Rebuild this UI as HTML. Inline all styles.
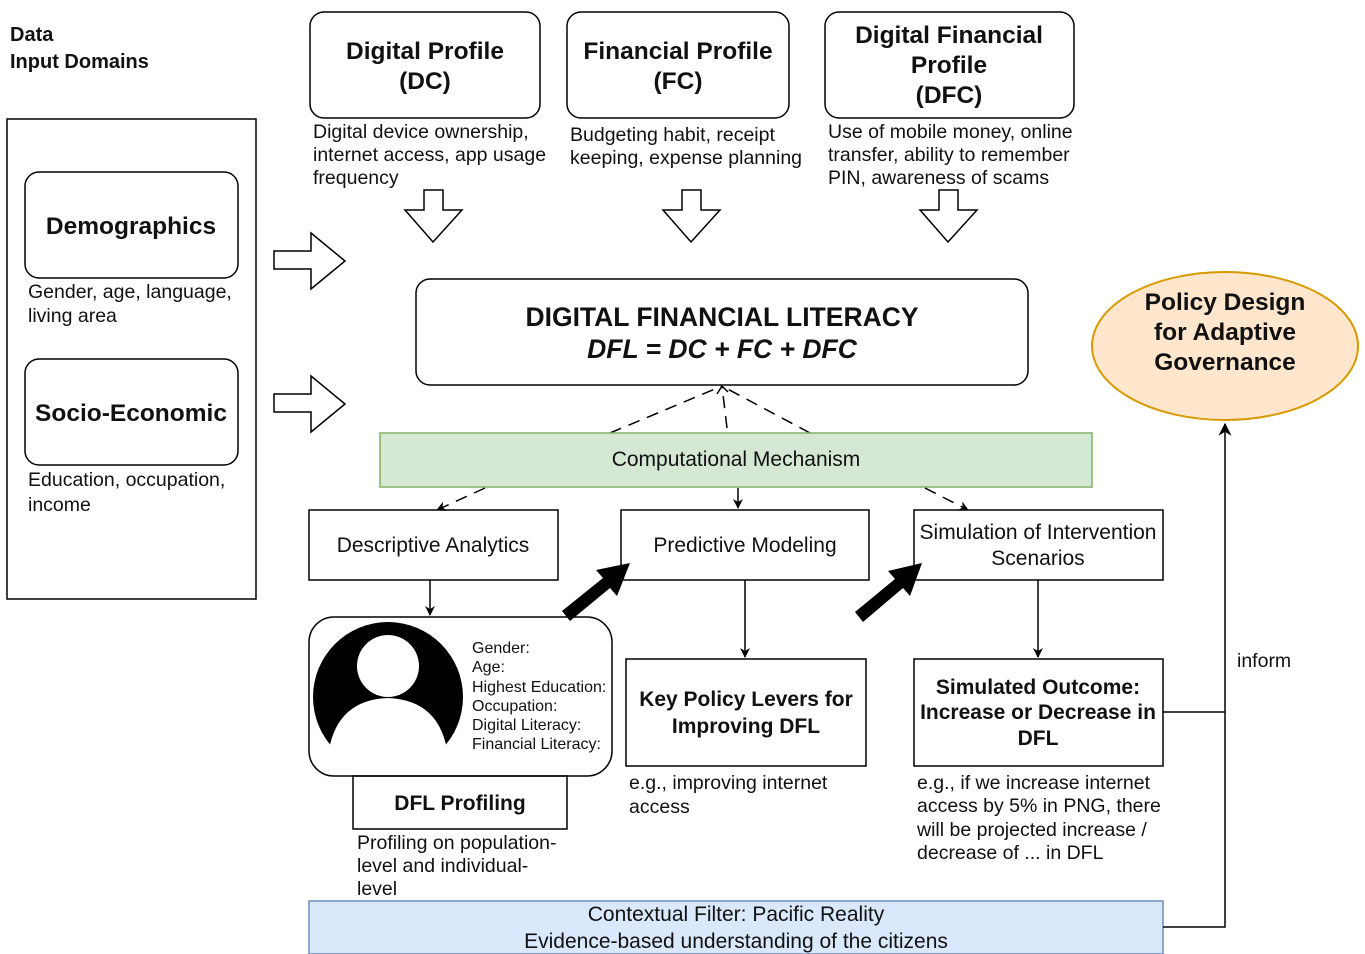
<!DOCTYPE html>
<html><head><meta charset="utf-8"><style>
html,body{margin:0;padding:0;background:#fff}
svg{display:block}
text{font-family:"Liberation Sans",sans-serif;fill:#111}
.b{font-weight:bold}
</style></head><body>
<svg width="1365" height="954" viewBox="0 0 1365 954" xmlns="http://www.w3.org/2000/svg">
<defs>
<marker id="ah" viewBox="0 0 10 10" refX="9" refY="5" markerWidth="10" markerHeight="10" orient="auto" markerUnits="userSpaceOnUse"><path d="M0,0 L10,5 L0,10 L3,5 z" fill="#000"/></marker>
<marker id="ah2" viewBox="0 0 10 10" refX="9" refY="5" markerWidth="13" markerHeight="13" orient="auto" markerUnits="userSpaceOnUse"><path d="M0,0 L10,5 L0,10 L3,5 z" fill="#000"/></marker>
</defs>
<g stroke="#000" stroke-width="1.5" fill="none">
<text x="10" y="41" class="b" font-size="20" stroke="none">Data</text>
<text x="10" y="68" class="b" font-size="20" stroke="none">Input Domains</text>
<rect x="7" y="119" width="249" height="480"/>
<rect x="25" y="172" width="213" height="106" rx="14" fill="#fff"/>
<rect x="25" y="359" width="213" height="106" rx="14" fill="#fff"/>
<path d="M274,251 H311 V233 L345,261 L311,289 V269 H274 Z" fill="#fff"/>
<path d="M274,394 H311 V376 L345,404 L311,432 V412 H274 Z" fill="#fff"/>
<rect x="310" y="12" width="230" height="106" rx="14" fill="#fff"/>
<rect x="567" y="12" width="222" height="106" rx="14" fill="#fff"/>
<rect x="825" y="12" width="249" height="106" rx="14" fill="#fff"/>
<path d="M424,190 H443 V210 H462 L433,242 L405,210 H424 Z" fill="#fff"/>
<path d="M682,190 H701 V210 H720 L691,242 L663,210 H682 Z" fill="#fff"/>
<path d="M939,190 H958 V210 H977 L948,242 L920,210 H939 Z" fill="#fff"/>
<rect x="416" y="279" width="612" height="106" rx="14" fill="#fff"/>
<g stroke-dasharray="12,8"><path d="M610,433 L722,386 M727,428 L722,386 M810,433 L722,386"/></g>
<path d="M722,386 l-5,8 M722,386 l6,6" />
<rect x="380" y="433" width="712" height="54" fill="#d5e8d4" stroke="#82b366"/>
<path d="M485,488 L437,510" stroke-dasharray="12,8" marker-end="url(#ah)"/>
<path d="M738,488 L738,508" marker-end="url(#ah)"/>
<path d="M925,488 L968,510" stroke-dasharray="12,8" marker-end="url(#ah)"/>
<rect x="309" y="510" width="249" height="70"/>
<rect x="621" y="510" width="248" height="70"/>
<rect x="914" y="510" width="249" height="70"/>
<path d="M430,580 L430,615" marker-end="url(#ah)"/>
<rect x="309" y="617" width="303" height="159" rx="25" fill="#fff"/>
<rect x="353" y="776" width="214" height="53"/>
<path d="M745,580 L745,657" marker-end="url(#ah)"/>
<path d="M1038,580 L1038,657" marker-end="url(#ah)"/>
<rect x="626" y="659" width="240" height="107"/>
<rect x="914" y="659" width="249" height="107"/>
<rect x="309" y="901" width="854" height="53" fill="#dae8fc" stroke="#6c8ebf"/>
<path d="M1163,712 H1225 M1163,927 H1225 V424" marker-end="url(#ah2)"/>
<ellipse cx="1225" cy="346" rx="133" ry="74" fill="#ffe6cc" stroke="#d79b00" stroke-width="2"/>
</g>
<!-- avatar -->
<circle cx="388" cy="697" r="75" fill="#000"/>
<rect x="330" y="752" width="116" height="22" fill="#fff"/>
<circle cx="388" cy="666" r="31" fill="#fff"/>
<path d="M328,756 Q335,700 388,698 Q441,700 448,756 Z" fill="#fff"/>
<!-- bold arrows -->
<g fill="#000">
<path d="M562,611 L603,578 L596,570 L630,563 L617,596 L610,588 L570,621 Z"/>
<path d="M855,612 L895,579 L888,571 L922,563 L910,596 L903,588 L863,622 Z"/>
</g>
<g font-size="24.5" class="b" text-anchor="middle">
<text x="131" y="234">Demographics</text>
<text x="131" y="421">Socio-Economic</text>
<text x="425" y="59">Digital Profile</text>
<text x="425" y="89">(DC)</text>
<text x="678" y="59">Financial Profile</text>
<text x="678" y="89">(FC)</text>
<text x="949" y="43">Digital Financial</text>
<text x="949" y="73">Profile</text>
<text x="949" y="103">(DFC)</text>
<text x="1225" y="310">Policy Design</text>
<text x="1225" y="340">for Adaptive</text>
<text x="1225" y="370">Governance</text>
</g>
<g font-size="26.5" class="b" text-anchor="middle">
<text x="722" y="326">DIGITAL FINANCIAL LITERACY</text>
<text x="722" y="358" font-style="italic">DFL = DC + FC + DFC</text>
</g>
<g font-size="19.5">
<text x="28" y="298">Gender, age, language,</text>
<text x="28" y="322">living area</text>
<text x="28" y="486">Education, occupation,</text>
<text x="28" y="511">income</text>
<text x="313" y="138">Digital device ownership,</text>
<text x="313" y="161">internet access, app usage</text>
<text x="313" y="184">frequency</text>
<text x="570" y="141">Budgeting habit, receipt</text>
<text x="570" y="164">keeping, expense planning</text>
<text x="828" y="138">Use of mobile money, online</text>
<text x="828" y="161">transfer, ability to remember</text>
<text x="828" y="184">PIN, awareness of scams</text>
<text x="357" y="849">Profiling on population-</text>
<text x="357" y="872">level and individual-</text>
<text x="357" y="895">level</text>
<text x="629" y="789">e.g., improving internet</text>
<text x="629" y="813">access</text>
<text x="917" y="789">e.g., if we increase internet</text>
<text x="917" y="812">access by 5% in PNG, there</text>
<text x="917" y="836">will be projected increase /</text>
<text x="917" y="859">decrease of ... in DFL</text>
<text x="1237" y="667">inform</text>
</g>
<g font-size="21" text-anchor="middle">
<text x="736" y="466">Computational Mechanism</text>
<text x="433" y="552">Descriptive Analytics</text>
<text x="745" y="552">Predictive Modeling</text>
<text x="1038" y="539">Simulation of Intervention</text>
<text x="1038" y="565">Scenarios</text>
<text x="736" y="921">Contextual Filter: Pacific Reality</text>
<text x="736" y="948">Evidence-based understanding of the citizens</text>
</g>
<g font-size="21" class="b" text-anchor="middle">
<text x="460" y="810">DFL Profiling</text>
<text x="746" y="706">Key Policy Levers for</text>
<text x="746" y="733">Improving DFL</text>
<text x="1038" y="694">Simulated Outcome:</text>
<text x="1038" y="719">Increase or Decrease in</text>
<text x="1038" y="745">DFL</text>
</g>
<g font-size="16">
<text x="472" y="653">Gender:</text>
<text x="472" y="672">Age:</text>
<text x="472" y="692">Highest Education:</text>
<text x="472" y="711">Occupation:</text>
<text x="472" y="730">Digital Literacy:</text>
<text x="472" y="749">Financial Literacy:</text>
</g>
</svg>
</body></html>
